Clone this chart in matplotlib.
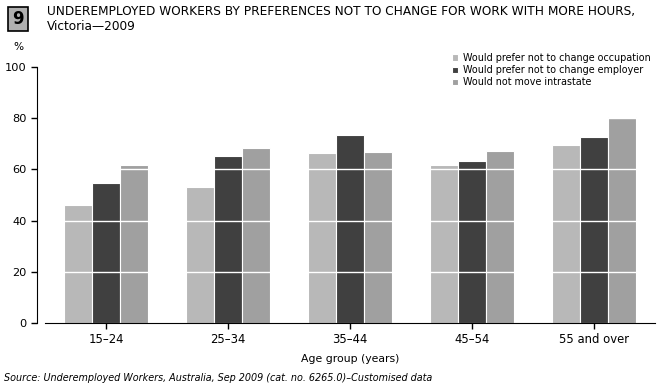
import matplotlib
matplotlib.use("Agg")
import matplotlib.pyplot as plt
import numpy as np
from matplotlib.patches import Rectangle

categories = ["15–24", "25–34", "35–44", "45–54", "55 and over"]
series_names = ["Would prefer not to change occupation",
                "Would prefer not to change employer",
                "Would not move intrastate"]
occupation = [46.1, 53.1, 66.5, 61.7, 69.7]
employer = [54.8, 65.4, 73.6, 63.4, 72.8]
intrastate = [61.8, 68.5, 66.9, 67.3, 80.5]
yticks = [0, 20, 40, 60, 80, 100]
colors = ["#b8b8b8", "#404040", "#a0a0a0"]

plt.rcParams['font.family'] = ['DejaVu Sans']

fig = plt.figure(figsize=(6.61, 3.92), dpi=100)
W, H = 661, 392
ax = fig.add_axes([45 / W, 1 - 323 / H, 610 / W, 256 / H])

x = np.arange(len(categories))
bw = 0.232
data = [occupation, employer, intrastate]
for i, (vals, c, name) in enumerate(zip(data, colors, series_names)):
    ax.bar(x + (i - 1) * bw, vals, width=bw, color=c, edgecolor="white",
           linewidth=0.8, label=name, zorder=2)

for yv in yticks[1:-1]:
    ax.axhline(yv, color="white", linewidth=1.0, zorder=3)

ax.set_xlim(-0.5, 4.5)
ax.set_ylim(0, 100)
ax.set_xticks(x)
ax.set_xticklabels(categories)
ax.set_yticks(yticks)
ax.set_yticklabels([str(v) for v in yticks])
ax.spines['top'].set_visible(False)
ax.spines['right'].set_visible(False)
ax.spines['left'].set_position(('outward', 6))
ax.tick_params(axis='both', length=4, width=1, color='black', pad=3)
ax.tick_params(axis='x', labelsize=8.4)
ax.tick_params(axis='y', labelsize=8.2)
ax.set_xlabel("Age group (years)", fontsize=7.8, labelpad=6)

fig.text(18 / W, 1 - 47 / H, "%", fontsize=7.6, ha='center', va='center')

leg = fig.legend(*ax.get_legend_handles_labels(), loc='upper left',
                 bbox_to_anchor=(450 / W, 1 - 51 / H), frameon=False,
                 fontsize=6.95, handlelength=0.6, handleheight=0.6,
                 handletextpad=0.5, labelspacing=0.22, borderpad=0.2,
                 borderaxespad=0)

# badge
fig.patches.append(Rectangle((8 / W, 1 - 31 / H), 20 / W, 24 / H,
                             transform=fig.transFigure, facecolor="#b0b0b0",
                             edgecolor="black", linewidth=1.2))
fig.text(18 / W, 1 - 19 / H, "9", fontsize=12, fontweight='bold', ha='center', va='center')
fig.text(47 / W, 1 - 19 / H,
         "UNDEREMPLOYED WORKERS BY PREFERENCES NOT TO CHANGE FOR WORK WITH MORE HOURS,\nVictoria\u20142009",
         fontsize=8.75, ha='left', va='center', linespacing=1.3)

fig.text(4 / W, 1 - 378 / H,
         "Source: Underemployed Workers, Australia, Sep 2009 (cat. no. 6265.0)\u2013Customised data",
         fontsize=6.9, style='italic', ha='left', va='center')

fig.savefig("out.png", dpi=100)
